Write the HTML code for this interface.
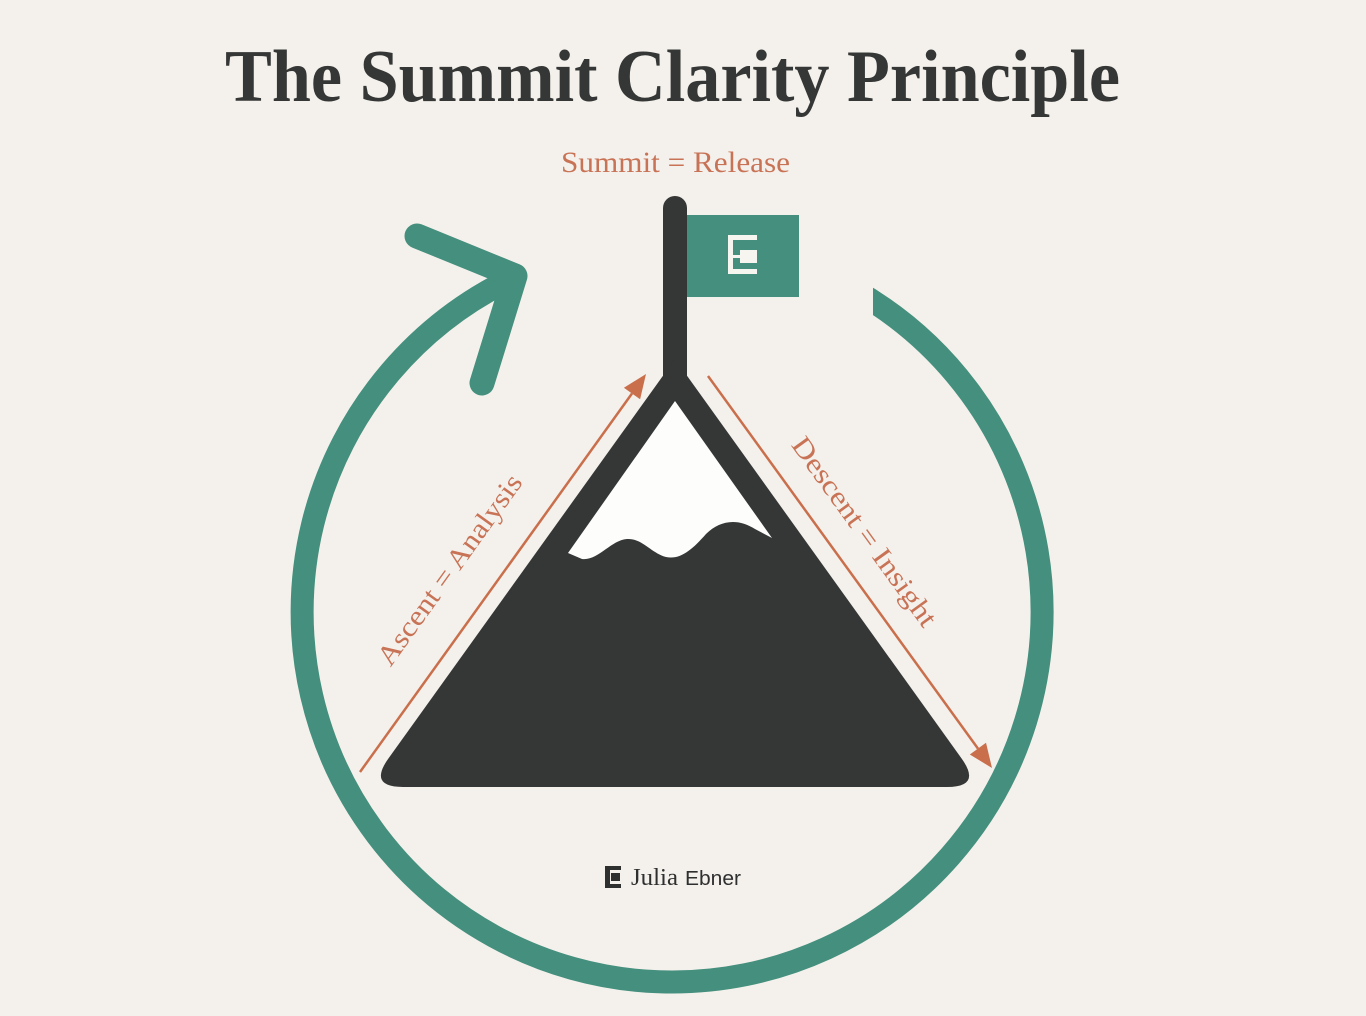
<!DOCTYPE html>
<html>
<head>
<meta charset="utf-8">
<style>
  html, body { margin: 0; padding: 0; background: #f4f1ec; }
  body { width: 1366px; height: 1016px; overflow: hidden; }
  svg { display: block; }
</style>
</head>
<body>
<svg width="1366" height="1016" viewBox="0 0 1366 1016" xmlns="http://www.w3.org/2000/svg">
  <rect x="0" y="0" width="1366" height="1016" fill="#f4f1ec"/>

  <!-- Title -->
  <text x="225" y="101" font-family="'Liberation Serif', serif" font-weight="bold" font-size="74" fill="#353736" textLength="895" lengthAdjust="spacingAndGlyphs">The Summit Clarity Principle</text>

  <!-- Summit label -->
  <text x="561" y="172" font-family="'Liberation Serif', serif" font-size="30" fill="#c87356" textLength="229" lengthAdjust="spacingAndGlyphs">Summit = Release</text>

  <!-- Teal ring arc -->
  <path d="M 855 290.4 A 370 370 0 1 1 513 278" fill="none" stroke="#448f7d" stroke-width="23"/>
  <!-- vertical cut at start -->
  <rect x="820" y="255" width="53" height="70" fill="#f4f1ec"/>
  <!-- arrow head -->
  <polyline points="417,236 515,276 482,383" fill="none" stroke="#448f7d" stroke-width="25" stroke-linecap="round" stroke-linejoin="round"/>

  <!-- Flag pole -->
  <rect x="663" y="196" width="24" height="200" rx="12" ry="12" fill="#353736"/>
  <!-- Flag -->
  <rect x="687" y="215" width="112" height="82" fill="#448f7d"/>
  <g fill="#f7f5f0">
    <rect x="728" y="235" width="5" height="39"/>
    <rect x="728" y="235" width="29" height="5"/>
    <rect x="728" y="269" width="29" height="5"/>
    <rect x="740" y="250" width="17" height="13"/>
    <rect x="733" y="255" width="7" height="3"/>
  </g>

  <!-- Mountain -->
  <path d="M 675 359 L 961.6 758.5 Q 982 787 947 787 L 403 787 Q 368 787 388.4 758.5 Z" fill="#353736"/>
  <!-- Snow cap -->
  <path d="M 675 401 L 772 538 L 755 529 C 738 518 720 520 706 534 C 692 550 680 560 666 557 C 651 553 642 538 627 539 C 611 540 598 561 582 559 L 568 553 Z" fill="#fdfdfc"/>

  <!-- Ascent arrow -->
  <line x1="360" y1="772" x2="632" y2="393.5" stroke="#c96f4c" stroke-width="2.5"/>
  <polygon points="646,374 640.1,399.3 623.9,387.7" fill="#c96f4c"/>

  <!-- Descent arrow -->
  <line x1="708" y1="376" x2="978" y2="748.6" stroke="#c96f4c" stroke-width="2.5"/>
  <polygon points="992,768 969.8,754.5 986,742.7" fill="#c96f4c"/>

  <!-- Ascent label -->
  <text transform="translate(457,575) rotate(-54.3)" text-anchor="middle" font-family="'Liberation Serif', serif" font-size="28" fill="#c87356" textLength="228" lengthAdjust="spacingAndGlyphs">Ascent = Analysis</text>

  <!-- Descent label -->
  <text transform="translate(857,537) rotate(54.1)" text-anchor="middle" font-family="'Liberation Serif', serif" font-size="28" fill="#c87356" textLength="227" lengthAdjust="spacingAndGlyphs">Descent = Insight</text>

  <!-- Footer logo -->
  <g fill="#2e2f2f">
    <rect x="605" y="866" width="5" height="22"/>
    <rect x="605" y="866" width="16" height="4"/>
    <rect x="605" y="884" width="16" height="4"/>
    <rect x="611" y="873" width="9" height="8"/>
  </g>
  <text x="631" y="885" font-family="'Liberation Serif', serif" font-size="24" fill="#2e2f2f" textLength="47" lengthAdjust="spacingAndGlyphs">Julia</text>
  <text x="685" y="885" font-family="'Liberation Sans', sans-serif" font-size="20" fill="#2e2f2f" textLength="56" lengthAdjust="spacingAndGlyphs">Ebner</text>
</svg>
</body>
</html>
